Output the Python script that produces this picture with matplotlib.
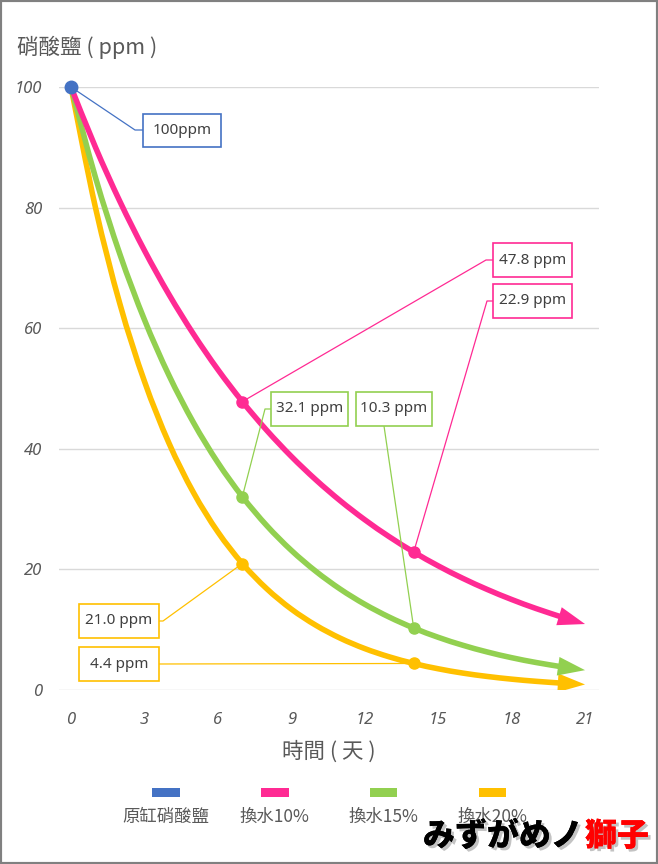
import matplotlib

matplotlib.use("Agg")
import matplotlib.pyplot as plt
import matplotlib.patheffects as pe
from matplotlib.lines import Line2D
from matplotlib.path import Path
from matplotlib.patches import Rectangle, FancyArrowPatch, PathPatch

# nitrate concentration (ppm) per day
days = list(range(22))
nitrate_10 = [100, 90, 81, 72.9, 65.61, 59.05, 53.14, 47.83, 43.05, 38.74, 34.87,
              31.38, 28.24, 25.42, 22.88, 20.59, 18.53, 16.68, 15.01, 13.51, 12.16, 10.94]
nitrate_15 = [100, 85, 72.25, 61.41, 52.2, 44.37, 37.71, 32.06, 27.25, 23.16, 19.69,
              16.73, 14.22, 12.09, 10.28, 8.74, 7.43, 6.31, 5.36, 4.56, 3.88, 3.29]
nitrate_20 = [100, 80, 64, 51.2, 40.96, 32.77, 26.21, 20.97, 16.78, 13.42, 10.74,
              8.59, 6.87, 5.5, 4.4, 3.52, 2.81, 2.25, 1.8, 1.44, 1.15, 0.92]
start_value = 100
marked_days = [7, 14]

legend_labels = ["原缸硝酸鹽", "換水10%", "換水15%", "換水20%"]
x_ticks = [0, 3, 6, 9, 12, 15, 18, 21]
y_ticks = [0, 20, 40, 60, 80, 100]

BLUE = "#4472C4"
PINK = "#FF2A93"
GREEN = "#92D050"
ORANGE = "#FFC000"
TEXT = "#595959"
CJK = ["Noto Sans CJK TC", "DejaVu Sans"]

W, H = 658, 864
fig = plt.figure(figsize=(W / 100, H / 100), dpi=100)
ax = fig.add_axes([59 / W, 174 / H, 540 / W, 603 / H])


def fxy(x, y):
    """pixel position (top-left origin) -> figure fraction"""
    return x / W, 1 - y / H


def smooth_path(xs, ys):
    """Excel-style smoothed line: Catmull-Rom segments as cubic Beziers."""
    verts = [(xs[0], ys[0])]
    codes = [Path.MOVETO]
    n = len(xs)
    for i in range(n - 1):
        x0, y0 = (xs[i - 1], ys[i - 1]) if i > 0 else (xs[i], ys[i])
        x1, y1 = xs[i], ys[i]
        x2, y2 = xs[i + 1], ys[i + 1]
        x3, y3 = (xs[i + 2], ys[i + 2]) if i + 2 < n else (x2, y2)
        verts += [(x1 + (x2 - x0) / 6, y1 + (y2 - y0) / 6),
                  (x2 - (x3 - x1) / 6, y2 - (y3 - y1) / 6),
                  (x2, y2)]
        codes += [Path.CURVE4] * 3
    return Path(verts, codes)


for s in ax.spines.values():
    s.set_visible(False)
ax.set_xlim(-0.49, 21.57)
ax.set_ylim(0, 100)
ax.set_yticks(y_ticks)
ax.set_xticks(x_ticks)
ax.grid(axis="y", color="#D9D9D9", lw=1)
ax.set_axisbelow(True)
ax.tick_params(length=0, labelsize=12, labelcolor=TEXT)
ax.tick_params(axis="y", pad=12)
ax.tick_params(axis="x", pad=16)
for lab in ax.get_xticklabels() + ax.get_yticklabels():
    lab.set_fontstyle("italic")
    lab.set_family("Noto Sans")

series = [(nitrate_20, ORANGE), (nitrate_15, GREEN), (nitrate_10, PINK)]
for vals, col in series:
    ax.add_patch(PathPatch(smooth_path(days[:-1], vals[:-1]), facecolor="none",
                           edgecolor=col, lw=4, capstyle="butt", zorder=3))
    arr = FancyArrowPatch((days[-2], vals[-2]), (days[-1], vals[-1]),
                          arrowstyle="simple,head_length=1.45,head_width=1.0,tail_width=0.3",
                          mutation_scale=13.5, color=col, lw=0, shrinkA=0, shrinkB=0,
                          zorder=3)
    ax.add_patch(arr)
    ax.plot(marked_days, [vals[d] for d in marked_days], "o", color=col, ms=8,
            zorder=4, clip_on=False)
ax.plot([0], [start_value], "o", color=BLUE, ms=9, zorder=5, clip_on=False)

fig.text(*fxy(17, 47), "硝酸鹽 ( ppm )", family=CJK, fontsize=15.5, color=TEXT,
         ha="left", va="center")
fig.text(*fxy(329, 752), "時間 ( 天 )", family=CJK, fontsize=15.5, color=TEXT,
         ha="center", va="center")

# data labels: (text, day, value, colour, box left, top, right, bottom, leader path)
labels = [
    ("100ppm", 0, start_value, BLUE, 143, 114, 221, 147, [(135, 130), (143, 130)]),
    ("47.8 ppm", 7, nitrate_10[7], PINK, 493, 243, 572, 277, [(486, 260), (493, 260)]),
    ("22.9 ppm", 14, nitrate_10[14], PINK, 493, 284, 572, 318, [(487, 301), (493, 301)]),
    ("32.1 ppm", 7, nitrate_15[7], GREEN, 271, 392, 348, 426, [(265, 409), (271, 409)]),
    ("10.3 ppm", 14, nitrate_15[14], GREEN, 356, 392, 432, 426, [(384, 426)]),
    ("21.0 ppm", 7, nitrate_20[7], ORANGE, 79, 604, 159, 638, [(163, 621), (159, 621)]),
    ("4.4 ppm", 14, nitrate_20[14], ORANGE, 79, 647, 159, 681, [(159, 664)]),
]
for text, d, v, col, l, t, r, b, path in labels:
    x0, y0 = fxy(l, b)
    x1, y1 = fxy(r, t)
    fig.patches.append(Rectangle((x0, y0), x1 - x0, y1 - y0, transform=fig.transFigure,
                                 facecolor="white", edgecolor=col, lw=1.2, zorder=6))
    fig.text((x0 + x1) / 2, (y0 + y1) / 2, text, family="Noto Sans", fontsize=11,
             color="#404040", ha="center", va="center", zorder=7)
    pt = fig.transFigure.inverted().transform(ax.transData.transform((d, v)))
    xs = [pt[0]] + [fxy(*p)[0] for p in path]
    ys = [pt[1]] + [fxy(*p)[1] for p in path]
    fig.lines.append(Line2D(xs, ys, transform=fig.transFigure, color=col, lw=0.9,
                            zorder=5))

# legend: colour bar above each label
legend_colors = [BLUE, PINK, GREEN, ORANGE]
for i, (lab, col) in enumerate(zip(legend_labels, legend_colors)):
    cx = 165.5 + i * 109
    x0, y0 = fxy(cx - 14, 797)
    fig.patches.append(Rectangle((x0, y0), 28 / W, 9 / H, transform=fig.transFigure,
                                 facecolor=col, edgecolor="none"))
    fig.text(*fxy(cx, 817), lab, family=CJK, fontsize=12.5, color=TEXT,
             ha="center", va="center")

# watermark
shadow = [pe.withSimplePatchShadow(offset=(2, -2), shadow_rgbFace="#888888", alpha=0.5),
          pe.Normal()]
fig.text(*fxy(583, 836), "みずがめノ", family=["Noto Sans CJK JP", "DejaVu Sans"],
         fontsize=23, fontweight="black", color="black", ha="right", va="center",
         path_effects=shadow, zorder=10)
fig.text(*fxy(585, 836), "獅子", family=["Noto Sans CJK JP", "DejaVu Sans"],
         fontsize=23, fontweight="black", color="#FF0000", ha="left", va="center",
         path_effects=shadow, zorder=10)

fig.patches.append(Rectangle((0, 0), 1, 1, transform=fig.transFigure, fill=False,
                             edgecolor="#808080", lw=3, zorder=20))

fig.savefig("out.png", dpi=100)
